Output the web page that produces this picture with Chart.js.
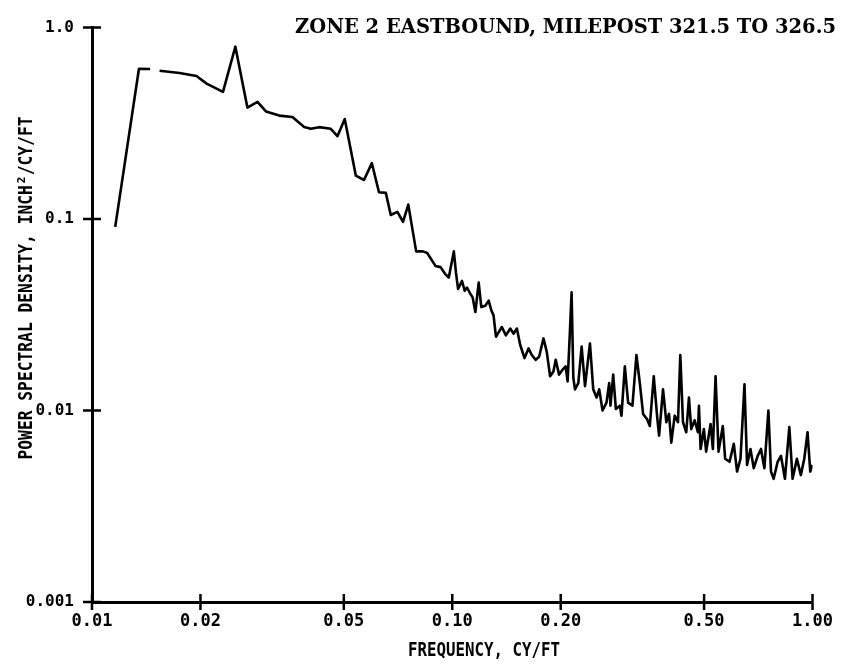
<!DOCTYPE html>
<html>
<head>
<meta charset="utf-8">
<script src="https://cdn.jsdelivr.net/npm/chart.js@4.4.1/dist/chart.umd.min.js"></script>
<style>
  html, body { margin: 0; padding: 0; background: #fff; }
  #wrap { width: 842px; height: 667px; }
</style>
</head>
<body>
<div id="wrap"><canvas id="psd" width="842" height="667"></canvas></div>
<script>
// frequency (cy/ft) and PSD (inch^2/cy/ft)
const freq = [
  0.0116, 0.0135, 0.0145, 0.0150, 0.0154, 0.0175, 0.0195, 0.0208, 0.0231, 0.0250,
  0.0270, 0.0288, 0.0304, 0.0331, 0.0360, 0.0388, 0.0405, 0.0427, 0.0460, 0.0480,
  0.0503, 0.0540, 0.0569, 0.0598, 0.0626, 0.0654, 0.0675, 0.0704, 0.0730, 0.0755,
  0.0794, 0.0829, 0.0852, 0.0899, 0.0928, 0.0958,
  0.0978, 0.1010, 0.1024, 0.1038, 0.1064, 0.1083, 0.1099, 0.1123, 0.1139, 0.1159,
  0.1184, 0.1204, 0.1235, 0.1262, 0.1284, 0.1302, 0.1322, 0.1373, 0.1409, 0.1449,
  0.1479, 0.1511, 0.1544, 0.1587, 0.1628, 0.1662, 0.1705, 0.1742, 0.1791, 0.1829,
  0.1869, 0.1909, 0.1937, 0.1979, 0.2021, 0.2064, 0.2090, 0.2113, 0.2144, 0.2168,
  0.2191, 0.2238, 0.2286, 0.2336, 0.2411, 0.2462, 0.2515, 0.2558, 0.2613, 0.2680,
  0.2726, 0.2749, 0.2797, 0.2845, 0.2919, 0.2949, 0.3013, 0.3077, 0.3163, 0.3245,
  0.3316, 0.3386, 0.3474, 0.3534, 0.3625, 0.3702, 0.3750, 0.3846, 0.3928, 0.3996,
  0.4055, 0.4144, 0.4232, 0.4295, 0.4369, 0.4462, 0.4539, 0.4606, 0.4707, 0.4807,
  0.4838, 0.4890, 0.4994, 0.5067, 0.5212, 0.5289, 0.5381, 0.5484, 0.5636, 0.5720,
  0.5883, 0.6046, 0.6174, 0.6310, 0.6473, 0.6581, 0.6725, 0.6868, 0.7045, 0.7194,
  0.7352, 0.7542, 0.7668, 0.7800, 0.8002, 0.8172, 0.8383, 0.8621, 0.8804, 0.9049,
  0.9282, 0.9485, 0.9687, 0.9855, 1.0000
];
const psd = [
  0.091, 0.610, 0.608, null, 0.595, 0.579, 0.559, 0.510, 0.462, 0.795,
  0.382, 0.409, 0.365, 0.347, 0.341, 0.303, 0.296, 0.302, 0.296, 0.271,
  0.333, 0.1685, 0.160, 0.196, 0.138, 0.137, 0.105, 0.109, 0.0968, 0.119,
  0.0678, 0.0678, 0.0665, 0.0568, 0.0561, 0.0514,
  0.0495, 0.0678, 0.0525, 0.0431, 0.0475, 0.0422, 0.0439, 0.0406, 0.0390, 0.0327,
  0.0466, 0.0347, 0.0353, 0.0375, 0.0333, 0.0314, 0.0243, 0.0273, 0.0247, 0.0268,
  0.0252, 0.0268, 0.0220, 0.0188, 0.0211, 0.0195, 0.0184, 0.0191, 0.0238, 0.0203,
  0.0151, 0.0160, 0.0184, 0.0154, 0.0163, 0.0170, 0.0142, 0.0220, 0.0414, 0.0148,
  0.0129, 0.0139, 0.0216, 0.0134, 0.0224, 0.0129, 0.0117, 0.0129, 0.0100, 0.0110,
  0.0139, 0.0106, 0.0154, 0.0102, 0.0106, 0.0094, 0.0170, 0.0110, 0.0106, 0.0195,
  0.0139, 0.0096, 0.0090, 0.0083, 0.0151, 0.0094, 0.0074, 0.0129, 0.0087, 0.0096,
  0.0068, 0.0094, 0.0087, 0.0195, 0.0087, 0.0077, 0.0117, 0.0080, 0.0089, 0.0077,
  0.0106, 0.0063, 0.0080, 0.0061, 0.0085, 0.0063, 0.0151, 0.0061, 0.0083, 0.0056,
  0.0054, 0.0067, 0.0048, 0.0056, 0.0137, 0.0052, 0.0063, 0.0050, 0.0058, 0.0063,
  0.0050, 0.0100, 0.0048, 0.0044, 0.0054, 0.0058, 0.0044, 0.0082, 0.0044, 0.0056,
  0.0046, 0.0056, 0.0077, 0.0048, 0.0052
];

const xTicks = [0.01, 0.02, 0.05, 0.1, 0.2, 0.5, 1.0];
const xTickLabels = ["0.01", "0.02", "0.05", "0.10", "0.20", "0.50", "1.00"];
const yTicks = [0.001, 0.01, 0.1, 1.0];
const yTickLabels = ["0.001", "0.01", "0.1", "1.0"];

const titleText = "ZONE 2 EASTBOUND, MILEPOST 321.5 TO 326.5";
const xTitle = "FREQUENCY, CY/FT";
const yTitle = "POWER SPECTRAL DENSITY, INCH²/CY/FT";

const monoFont = "'DejaVu Sans Mono', 'Liberation Mono', monospace";

// tick marks that cross the axes, plus the titles
const decor = {
  id: "decor",
  afterDraw(chart) {
    const { ctx, chartArea } = chart;
    const x = chart.scales.x;
    const y = chart.scales.y;
    ctx.save();
    ctx.strokeStyle = "#000";
    ctx.lineWidth = 2.5;
    ctx.beginPath();
    xTicks.forEach(v => {
      const px = x.getPixelForValue(v);
      ctx.moveTo(px, chartArea.bottom - 8);
      ctx.lineTo(px, chartArea.bottom + 8);
    });
    yTicks.forEach(v => {
      const py = y.getPixelForValue(v);
      ctx.moveTo(chartArea.left - 9, py);
      ctx.lineTo(chartArea.left + 9, py);
    });
    ctx.stroke();

    ctx.fillStyle = "#000";
    ctx.font = "bold 20px 'DejaVu Serif', 'Liberation Serif', serif";
    ctx.textAlign = "right";
    ctx.textBaseline = "alphabetic";
    ctx.fillText(titleText, 836, 33, 541);

    ctx.font = "bold 20px " + monoFont;
    ctx.textAlign = "center";
    ctx.fillText(xTitle, 484, 656, 152);

    ctx.translate(32, 288);
    ctx.rotate(-Math.PI / 2);
    ctx.fillText(yTitle, 0, 0, 343);
    ctx.restore();
  }
};

new Chart(document.getElementById("psd"), {
  type: "line",
  data: {
    datasets: [{
      data: freq.map((f, i) => ({ x: f, y: psd[i] })),
      borderColor: "#000",
      borderWidth: 2.6,
      borderJoinStyle: "round",
      pointRadius: 0,
      tension: 0,
      spanGaps: false,
      fill: false
    }]
  },
  options: {
    responsive: false,
    animation: false,
    devicePixelRatio: 1,
    layout: { padding: { top: 20, right: 27, left: 0, bottom: 0 } },
    plugins: {
      legend: { display: false },
      tooltip: { enabled: false },
      title: { display: false }
    },
    scales: {
      x: {
        type: "logarithmic",
        min: 0.01,
        max: 1.0,
        afterBuildTicks: s => { s.ticks = xTicks.map(v => ({ value: v })); },
        afterFit: s => { s.height = 65; },
        grid: { display: false, drawTicks: false },
        border: { display: true, color: "#000", width: 3 },
        ticks: {
          autoSkip: false,
          maxRotation: 0,
          padding: 9,
          color: "#000",
          font: { family: monoFont, size: 17, weight: "bold" },
          callback: (v, i) => xTickLabels[i]
        }
      },
      y: {
        type: "logarithmic",
        min: 0.001,
        max: 1.0,
        afterBuildTicks: s => { s.ticks = yTicks.map(v => ({ value: v })); },
        afterFit: s => { s.width = 92; },
        grid: { display: false, drawTicks: false },
        border: { display: true, color: "#000", width: 3 },
        ticks: {
          autoSkip: false,
          padding: 18,
          color: "#000",
          font: { family: monoFont, size: 16, weight: "bold" },
          callback: (v, i) => yTickLabels[i]
        }
      }
    }
  },
  plugins: [decor]
});
</script>
</body>
</html>
